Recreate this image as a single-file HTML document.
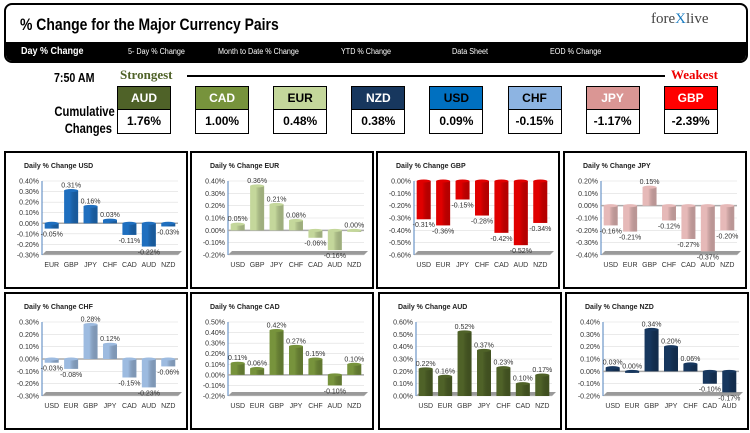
<!DOCTYPE html>
<html><head><meta charset="utf-8"><style>
body{margin:0;width:750px;height:432px;background:#fff;position:relative;overflow:hidden;font-family:"Liberation Sans",sans-serif}
.abs{position:absolute}
.hdr{left:4px;top:3px;width:740px;height:56px;border:2px solid #000;border-radius:8px;overflow:hidden;background:#fff}
.nav{position:absolute;left:0;bottom:0;width:100%;height:19px;background:#000;color:#fff;font-size:8px}
.nav span{position:absolute;top:5px;transform-origin:left center;transform:scaleX(0.9);white-space:nowrap}
.box{width:52px;height:46px;border:1px solid #000;text-align:center;font-weight:bold}
.box .t{height:22px;line-height:22px;font-size:12px;color:#fff;border-bottom:1px solid #000}
.box .v{line-height:23px;font-size:12px;color:#000}
.panel{border:2px solid #000;background:#fff}
.narrow{display:inline-block;transform-origin:left center;transform:scaleX(0.82);white-space:nowrap}
</style></head><body>
<div class="abs hdr">
 <div class="abs" style="left:14px;top:10px;font-size:17px;font-weight:bold"><span class="narrow">% Change for the Major Currency Pairs</span></div>
 <div class="abs" style="left:645px;top:6px;width:80px;font-family:'Liberation Serif',serif;font-size:15px;color:#444">fore<span style="color:#1a7cc1">X</span>live</div>
 <div class="nav">
  <span style="left:15px;top:4px;font-size:10px;font-weight:bold">Day % Change</span>
  <span style="left:122px">5- Day % Change</span>
  <span style="left:212px">Month to Date % Change</span>
  <span style="left:335px">YTD % Change</span>
  <span style="left:446px">Data Sheet</span>
  <span style="left:544px">EOD % Change</span>
 </div>
</div>
<div class="abs" style="left:54px;top:70px;font-size:13px;font-weight:bold"><span class="narrow">7:50 AM</span></div>
<div class="abs" style="left:120px;top:67px;font-size:13px;font-weight:bold;color:#4f6228;font-family:'Liberation Serif',serif">Strongest</div>
<div class="abs" style="left:187px;top:75px;width:478px;height:2px;background:#000"></div>
<div class="abs" style="left:671px;top:67px;font-size:13px;font-weight:bold;color:#e00;font-family:'Liberation Serif',serif">Weakest</div>
<div class="abs" style="left:40px;top:103px;width:72px;font-size:14px;font-weight:bold;text-align:right;line-height:17px"><div style="transform-origin:right center;transform:scaleX(0.8);white-space:nowrap">Cumulative<br>Changes</div></div>
<div id="boxes"></div>
<div id="panels"></div>
<script>
const boxCur=['AUD','CAD','EUR','NZD','USD','CHF','JPY','GBP'];
const boxVal=['1.76%','1.00%','0.48%','0.38%','0.09%','-0.15%','-1.17%','-2.39%'];
const boxCol=['#4f6228','#77933c','#c4d79b','#17375e','#0070c0','#8db4e2','#da9694','#ff0000'];
const boxTxt=['#fff','#fff','#000','#fff','#000','#000','#fff','#fff'];
const bx=document.getElementById('boxes');
boxCur.forEach((c,i)=>{
 const d=document.createElement('div');
 d.className='abs box';
 d.style.left=(117+i*78.1)+'px';d.style.top='86px';
 
 
 d.innerHTML='<div class="t" style="background:'+boxCol[i]+';color:'+boxTxt[i]+'">'+c+'</div><div class="v">'+boxVal[i]+'</div>';
 bx.appendChild(d);
});

const usdCats=['EUR','GBP','JPY','CHF','CAD','AUD','NZD'];
const usdVals=[-0.05,0.31,0.16,0.03,-0.11,-0.22,-0.03];
const eurCats=['USD','GBP','JPY','CHF','CAD','AUD','NZD'];
const eurVals=[0.05,0.36,0.21,0.08,-0.06,-0.16,0.00];
const gbpCats=['USD','EUR','JPY','CHF','CAD','AUD','NZD'];
const gbpVals=[-0.31,-0.36,-0.15,-0.28,-0.42,-0.52,-0.34];
const jpyCats=['USD','EUR','GBP','CHF','CAD','AUD','NZD'];
const jpyVals=[-0.16,-0.21,0.15,-0.12,-0.27,-0.37,-0.20];
const chfCats=['USD','EUR','GBP','JPY','CAD','AUD','NZD'];
const chfVals=[-0.03,-0.08,0.28,0.12,-0.15,-0.23,-0.06];
const cadCats=['USD','EUR','GBP','JPY','CHF','AUD','NZD'];
const cadVals=[0.11,0.06,0.42,0.27,0.15,-0.10,0.10];
const audCats=['USD','EUR','GBP','JPY','CHF','CAD','NZD'];
const audVals=[0.22,0.16,0.52,0.37,0.23,0.10,0.17];
const nzdCats=['USD','EUR','GBP','JPY','CHF','CAD','AUD'];
const nzdVals=[0.03,0.00,0.34,0.20,0.06,-0.10,-0.17];
const usdRange=[-0.3,0.4],eurRange=[-0.2,0.4],gbpRange=[-0.6,0],jpyRange=[-0.4,0.2],chfRange=[-0.3,0.3],cadRange=[-0.2,0.5],audRange=[0,0.6],nzdRange=[-0.2,0.4];

const charts=[
 ['USD',usdCats,usdVals,usdRange,'#1f6fbf',4,151],
 ['EUR',eurCats,eurVals,eurRange,'#c4d79b',190,151],
 ['GBP',gbpCats,gbpVals,gbpRange,'#e00000',376,151],
 ['JPY',jpyCats,jpyVals,jpyRange,'#e6b9b8',563,151],
 ['CHF',chfCats,chfVals,chfRange,'#9dbbe0',4,292],
 ['CAD',cadCats,cadVals,cadRange,'#77933c',190,292],
 ['AUD',audCats,audVals,audRange,'#4f6228',378,292],
 ['NZD',nzdCats,nzdVals,nzdRange,'#17375e',565,292]
];
const NS='http://www.w3.org/2000/svg';
function el(tag,attrs,parent){const e=document.createElementNS(NS,tag);for(const k in attrs)e.setAttribute(k,attrs[k]);parent.appendChild(e);return e;}
const host=document.getElementById('panels');
charts.forEach(ch=>{
 const [name,cats,vals,rng,col,px,py]=ch;
 const W=180,H=134;
 const div=document.createElement('div');
 div.className='abs panel';
 div.style.left=px+'px';div.style.top=py+'px';div.style.width=W+'px';div.style.height=H+'px';
 
 
 host.appendChild(div);
 const svg=document.createElementNS(NS,'svg');
 svg.setAttribute('width',W);svg.setAttribute('height',H);
 
 
 div.appendChild(svg);
 const top=28,bot=102,x0=36,x1=172;
 const y=v=>bot-(v-rng[0])/(rng[1]-rng[0])*(bot-top);
 const t=el('text',{x:18,y:15,'font-size':7,'font-weight':'bold',fill:'#222'},svg);
 t.textContent='Daily % Change '+name;
 
 
 const fl=el('polygon',{points:`${x0},${bot} ${x1},${bot} ${x1+4},${bot-4} ${x0+4},${bot-4}`,fill:'#9a9a9a'},svg);
 
 
 const n=Math.round((rng[1]-rng[0])/0.1);
 for(let i=0;i<=n;i++){
  const v=rng[0]+i*0.1,yy=y(v);
  el('line',{x1:x0,x2:x1,y1:yy,y2:yy,stroke:'#ddd','stroke-width':0.6},svg);
  const tl=el('text',{x:x0-3,y:yy+2.5,'font-size':7,'text-anchor':'end',fill:'#333'},svg);
  tl.textContent=v.toFixed(2)+'%';
  
  
 }
 el('line',{x1:x0,x2:x0,y1:top,y2:bot,stroke:'#4f81bd','stroke-width':1},svg);
 if(rng[0]<0&&rng[1]>0) el('line',{x1:x0,x2:x1,y1:y(0),y2:y(0),stroke:'#aaa','stroke-width':1.5},svg);
 const step=(x1-x0)/cats.length,bw=step*0.72;
 const gid='g'+name;
 const g=el('linearGradient',{id:gid,x1:0,x2:1,y1:0,y2:0},el('defs',{},svg));
 el('stop',{offset:0,'stop-color':col,'stop-opacity':0.8},g);
 el('stop',{offset:0.4,'stop-color':col},g);
 el('stop',{offset:1,'stop-color':'#000','stop-opacity':0.35},g);
 cats.forEach((c,i)=>{
  const cx=x0+step*(i+0.5),v=vals[i];
  const ya=y(Math.max(v,0)),yb=y(Math.min(v,0));
  const b=el('rect',{x:cx-bw/2,y:ya,width:bw,height:Math.max(yb-ya,1.5),fill:col},svg);
  
  
  el('rect',{x:cx-bw/2,y:ya,width:bw,height:Math.max(yb-ya,1.5),fill:'url(#'+gid+')',opacity:0.5},svg);
  el('ellipse',{cx:cx,cy:ya,rx:bw/2,ry:1.5,fill:col},svg);
  const lv=el('text',{x:cx,y:v>=0?ya-3:yb+8,'font-size':7,'text-anchor':'middle',fill:'#333'},svg);
  lv.textContent=v.toFixed(2)+'%';
  
  
  const cl=el('text',{x:cx,y:bot+12,'font-size':7,'text-anchor':'middle',fill:'#333'},svg);
  cl.textContent=c;
  
  
 });
});
</script>
</body></html>
